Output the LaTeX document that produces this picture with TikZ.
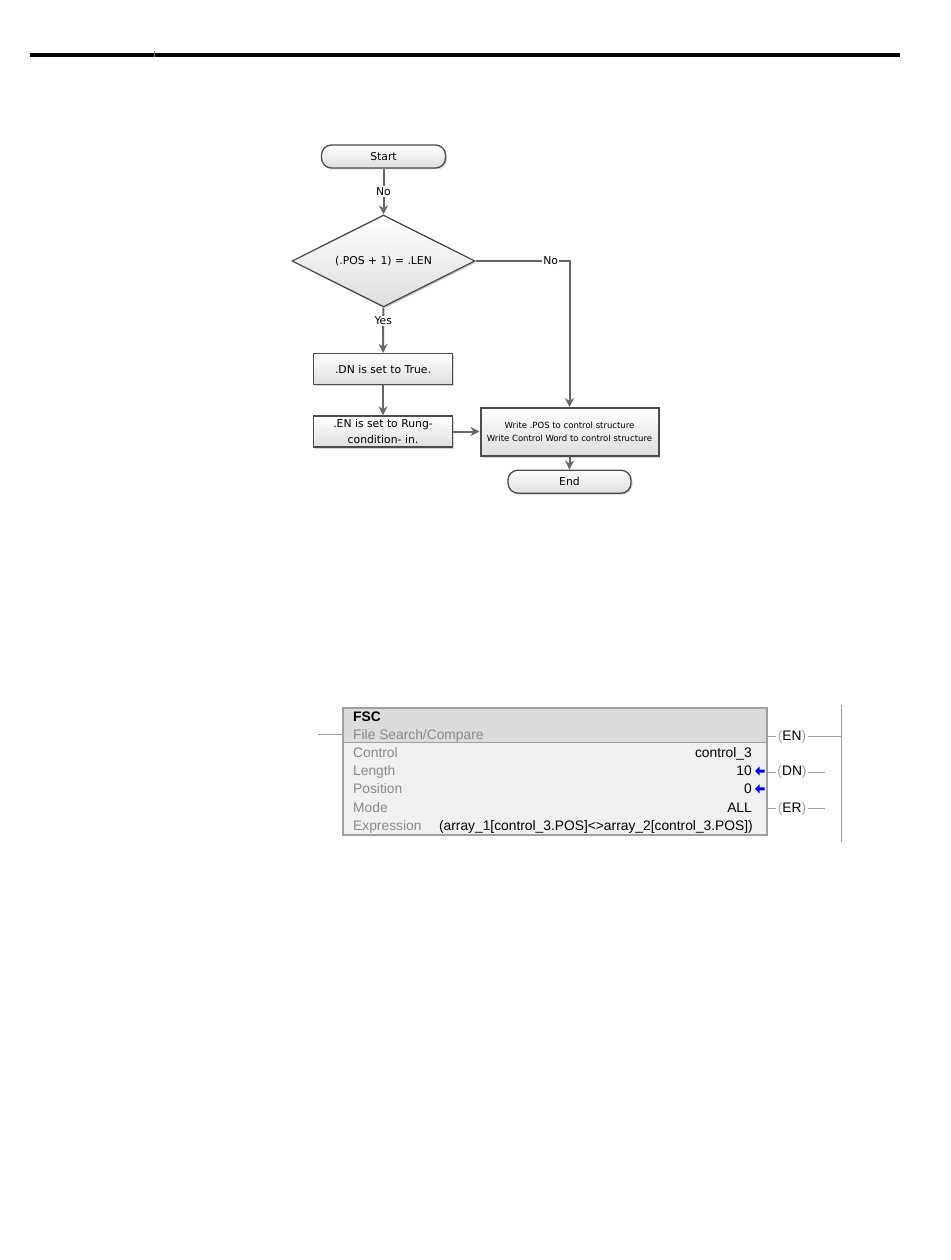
\documentclass[tikz,border=0pt]{standalone}
\usepackage{fontspec}
\setmainfont{Liberation Sans}
\newfontfamily\flowfont{DejaVu Sans}
\usetikzlibrary{shapes.geometric,shadows,arrows.meta}

\definecolor{hdrgray}{HTML}{DCDCDC}
\definecolor{bodygray}{HTML}{F0F0F0}
\definecolor{edgegray}{HTML}{A0A0A0}
\definecolor{labgray}{HTML}{8A8A8A}

\begin{document}
\begin{tikzpicture}[x=1pt, y=-1pt, >={Stealth[length=9pt,width=9pt]},
    flow/.style={draw=black!70, line width=1.3pt, top color=white, bottom color=black!13,
      drop shadow={shadow xshift=1.5pt, shadow yshift=-1.5pt, opacity=0.35},
      font=\flowfont\fontsize{10.8}{16.5}\selectfont, align=center, inner sep=0pt},
    term/.style={flow, rounded corners=10pt, minimum width=124pt, minimum height=23pt},
    proc/.style={flow, minimum width=139pt, minimum height=31pt},
    decide/.style={flow, shape=diamond, aspect=2, minimum width=183pt, minimum height=92pt},
    link/.style={draw=black!60, line width=2pt},
    lbl/.style={fill=white, inner sep=1pt, font=\flowfont\fontsize{10.8}{13}\selectfont},
    fsctext/.style={inner sep=0pt, text height=10pt, text depth=3pt, font=\fontsize{13.8}{16}\selectfont},
    rung/.style={draw=edgegray, line width=1pt},
    coil/.style={fsctext, inner xsep=1.5pt}]
  \useasboundingbox (0,0) rectangle (950,1260);

  % page rule
  \draw[line width=4pt] (29.5,54.7) -- (900,54.7);
  \draw[black!50, line width=0.6pt] (154.3,51.5) -- (154.3,57.5);

  % flowchart
  \node[term] (start) at (383.5,156.5) {Start};
  \node[decide] (test) at (383.5,261) {(.POS + 1) = .LEN};
  \node[proc] (dnset) at (383,369) {.DN is set to True.};
  \node[proc] (enset) at (383,431.5) {.EN is set to Rung-\\condition- in.};
  \node[proc, minimum width=178pt, minimum height=48pt, line width=2pt,
    font=\flowfont\fontsize{8.5}{13.3}\selectfont] (write) at (569.5,432)
    {Write .POS to control structure\\Write Control Word to control structure};
  \node[term, minimum width=123pt] (stop) at (569.5,481.7) {End};

  \draw[link,->] (start) -- (test) node[lbl, midway] {No};
  \draw[link,->] (test) -- (dnset) node[lbl, pos=0.3] {Yes};
  \draw[link,->] (dnset) -- (enset);
  \draw[link,->] (enset.east) -- (enset.east -| write.west);
  \draw[link,->] (test.east) -| (write.north) node[lbl, pos=0.4] {No};
  \draw[link,->] (write) -- (stop);

  % FSC instruction
  \path node[minimum width=423.2pt, minimum height=127.5pt, inner sep=0pt, anchor=north west]
    (fsc) at (343.3,707.5) {};
  \fill[bodygray] (fsc.north west) rectangle (fsc.south east);
  \fill[hdrgray] (fsc.north west) rectangle (766.5,742.5);
  \draw[edgegray, line width=1pt] (343.3,742.5) -- (766.5,742.5);
  \draw[edgegray, line width=2pt] (fsc.north west) rectangle (fsc.south east);

  \node[fsctext, anchor=west, font=\fontsize{13.8}{16}\selectfont\bfseries] (fscname) at (353,717.5) {FSC};
  \foreach \lab [count=\i] in {File Search/Compare, Control, Length, Position, Mode, Expression}
    \node[fsctext, anchor=west, text=labgray] (lab\i) at (353,717.5+18.2*\i) {\lab};

  \node[fsctext, anchor=east] (ctrl) at (752,753.9) {control\_3};
  \node[fsctext, anchor=east] (len) at (752,772.1) {10};
  \node[fsctext, anchor=east] (pos) at (752,790.3) {0};
  \node[fsctext, anchor=east] (mode) at (752,808.5) {ALL};
  \node[fsctext, anchor=east] (expr) at (753,826.7)
    {(array\_1[control\_3.POS]<>array\_2[control\_3.POS])};

  \foreach \y in {771,788.8}
    \fill[blue] (755,\y) -- ++(4.5,-4.5) -- ++(0,3) -- ++(5,0) -- ++(0,3)
      -- ++(-5,0) -- ++(0,3) -- cycle;

  % rungs and coils
  \coordinate (leftrung) at (318,734.3);
  \coordinate (railtop) at (841,705);
  \coordinate (railbot) at (841,842);
  \coordinate (dnend) at (825,770.5);
  \coordinate (erend) at (825,807.3);
  \node[coil] (en) at (792,736.5) {\textcolor{edgegray}{(}EN\textcolor{edgegray}{)}};
  \node[coil] (dn) at (792,772) {\textcolor{edgegray}{(}DN\textcolor{edgegray}{)}};
  \node[coil] (er) at (792,808.8) {\textcolor{edgegray}{(}ER\textcolor{edgegray}{)}};

  \draw[rung] (leftrung) -- (leftrung -| fsc.west);
  \draw[rung] (railtop) -- (railbot);
  \draw[rung] (fsc.east |- en) -- (en);
  \draw[rung] (en) -- (en -| railtop);
  \draw[rung] (fsc.east |- dn) -- (dn);
  \draw[rung] (dn) -- (dnend |- dn);
  \draw[rung] (fsc.east |- er) -- (er);
  \draw[rung] (er) -- (erend |- er);
\end{tikzpicture}
\end{document}
